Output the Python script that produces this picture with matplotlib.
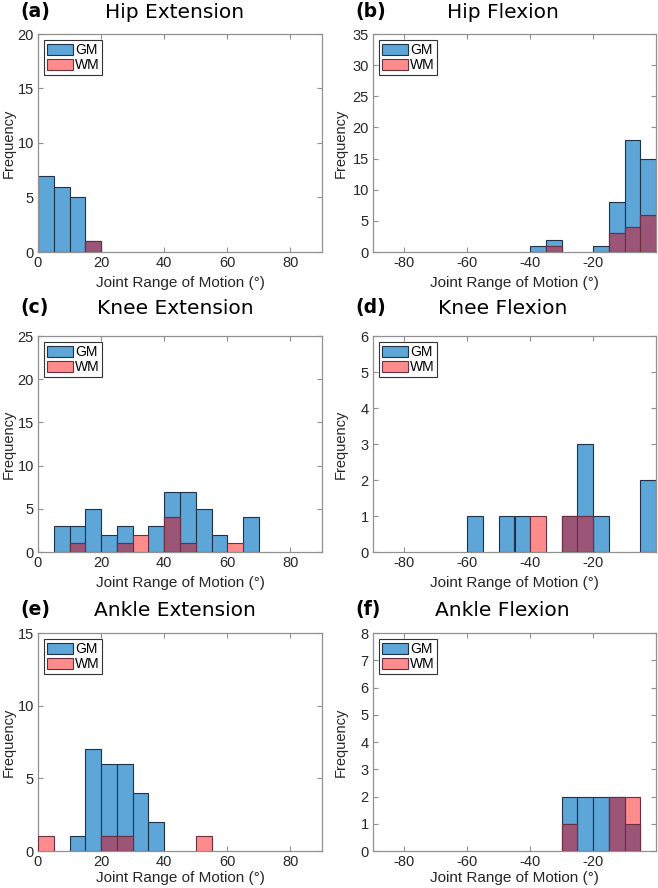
import numpy as np
import matplotlib
matplotlib.use('Agg')
import matplotlib.pyplot as plt
from matplotlib.patches import Patch

plt.rcParams['axes.unicode_minus'] = False

# panel titles and letters
letters = ['(a)', '(b)', '(c)', '(d)', '(e)', '(f)']
titles = ['Hip Extension', 'Hip Flexion', 'Knee Extension', 'Knee Flexion',
          'Ankle Extension', 'Ankle Flexion']

# bin width 5 deg; extension bins start at 0, flexion bins at -90
ext_lefts = list(range(0, 90, 5))
flex_lefts = list(range(-90, 0, 5))

# counts per bin
#                 0  5 10 15 20 25 30 35 40 45 50 55 60 65 70 75 80 85
hip_ext_gm    = [7, 6, 5, 1, 0, 0, 0, 0, 0, 0, 0, 0, 0, 0, 0, 0, 0, 0]
hip_ext_wm    = [0, 0, 0, 1, 0, 0, 0, 0, 0, 0, 0, 0, 0, 0, 0, 0, 0, 0]
knee_ext_gm   = [0, 3, 3, 5, 2, 3, 0, 3, 7, 7, 5, 2, 0, 4, 0, 0, 0, 0]
knee_ext_wm   = [0, 0, 1, 0, 0, 1, 2, 0, 4, 1, 0, 0, 1, 0, 0, 0, 0, 0]
ankle_ext_gm  = [0, 0, 1, 7, 6, 6, 4, 2, 0, 0, 0, 0, 0, 0, 0, 0, 0, 0]
ankle_ext_wm  = [1, 0, 0, 0, 1, 1, 0, 0, 0, 0, 1, 0, 0, 0, 0, 0, 0, 0]
#               -90-85-80-75-70-65-60-55-50-45-40-35-30-25-20-15-10 -5
hip_flex_gm   = [0, 0, 0, 0, 0, 0, 0, 0, 0, 0, 1, 2, 0, 0, 1, 8, 18, 15]
hip_flex_wm   = [0, 0, 0, 0, 0, 0, 0, 0, 0, 0, 0, 1, 0, 0, 0, 3, 4, 6]
knee_flex_gm  = [0, 0, 0, 0, 0, 0, 1, 0, 1, 1, 0, 0, 1, 3, 1, 0, 0, 2]
knee_flex_wm  = [0, 0, 0, 0, 0, 0, 0, 0, 0, 0, 1, 0, 1, 1, 0, 0, 0, 0]
ankle_flex_gm = [0, 0, 0, 0, 0, 0, 0, 0, 0, 0, 0, 0, 2, 2, 2, 2, 1, 0]
ankle_flex_wm = [0, 0, 0, 0, 0, 0, 0, 0, 0, 0, 0, 0, 1, 0, 0, 2, 2, 0]

gm_all = [hip_ext_gm, hip_flex_gm, knee_ext_gm, knee_flex_gm, ankle_ext_gm, ankle_flex_gm]
wm_all = [hip_ext_wm, hip_flex_wm, knee_ext_wm, knee_flex_wm, ankle_ext_wm, ankle_flex_wm]
ymax = [20, 35, 25, 6, 15, 8]
ystep = [5, 5, 5, 1, 5, 1]

c_gm = '#5ea5d8'
c_wm = '#ff8c8c'
c_both = '#9a5577'
e_gm = '#1f3348'
e_wm = '#6a3040'
spine_c = '#909090'
text_c = '#262626'

W, H = 658, 888
fig = plt.figure(figsize=(W / 100, H / 100), dpi=100)

# axes boxes in pixels
cols = [(38, 322), (373, 656)]
rows = [(34, 252), (336, 552), (633, 851)]
title_y = [12, 308, 610]
ylab_x = [9, 341]
xlab_pad = [4, 4, 1.5]

sans = ['Liberation Sans', 'DejaVu Sans']

for i in range(6):
    r, c = divmod(i, 2)
    x0, x1 = cols[c]
    y0, y1 = rows[r]
    ax = fig.add_axes([x0 / W, 1 - y1 / H, (x1 - x0) / W, (y1 - y0) / H])

    gm = np.array(gm_all[i])
    wm = np.array(wm_all[i])
    lefts = np.array(ext_lefts if c == 0 else flex_lefts)
    both = np.minimum(gm, wm)

    m = gm > 0
    ax.bar(lefts[m], gm[m], width=5, align='edge', color=c_gm, edgecolor=e_gm, linewidth=0.8, zorder=2)
    m = wm > 0
    ax.bar(lefts[m], wm[m], width=5, align='edge', color=c_wm, edgecolor=e_wm, linewidth=0.8, zorder=3)
    m = both > 0
    ax.bar(lefts[m], both[m], width=5, align='edge', color=c_both, edgecolor=e_wm, linewidth=0.8, zorder=4)

    if c == 0:
        ax.set_xlim(0, 90)
        ax.set_xticks([0, 20, 40, 60, 80])
    else:
        ax.set_xlim(-90, 0)
        ax.set_xticks([-80, -60, -40, -20])
    ax.set_ylim(0, ymax[i])
    ax.set_yticks(np.arange(0, ymax[i] + 1, ystep[i]))

    for s in ax.spines.values():
        s.set_color(spine_c)
        s.set_linewidth(0.9)
    ax.tick_params(direction='in', top=True, right=True, length=3.5, width=0.8,
                   color=spine_c, labelcolor=text_c, labelsize=10.5, pad=3)
    for lab in ax.get_xticklabels() + ax.get_yticklabels():
        lab.set_family(sans)

    ax.set_xlabel('Joint Range of Motion (°)', family=sans, fontsize=11, color=text_c,
                  labelpad=xlab_pad[r])
    ax.set_ylabel('Frequency', family=sans, fontsize=10.5, color=text_c, va='center')
    ax.yaxis.set_label_coords((ylab_x[c] - x0) / (x1 - x0), 0.5)

    handles = [Patch(facecolor=c_gm, edgecolor=e_gm, linewidth=0.8, label='GM'),
               Patch(facecolor=c_wm, edgecolor=e_wm, linewidth=0.8, label='WM')]
    leg = ax.legend(handles=handles, loc='upper left', fancybox=False, framealpha=1,
                    edgecolor='#333333', borderpad=0.2, handlelength=1.9, handleheight=0.85,
                    handletextpad=0.1, labelspacing=0.1, borderaxespad=0.45,
                    prop={'family': sans, 'size': 10})
    leg.get_frame().set_linewidth(0.8)

    # panel letter and title above each axes
    xc = (x0 + x1) / 2 - (5 if c == 0 else 12)
    fig.text((x0 - 18) / W, 1 - title_y[r] / H, letters[i], fontsize=13.5, fontweight='bold',
             family='DejaVu Sans', ha='left', va='center', color='black')
    fig.text(xc / W, 1 - title_y[r] / H, titles[i], fontsize=14.5,
             family='DejaVu Sans', ha='center', va='center', color='black')

fig.savefig('out.png', dpi=100, facecolor='white')
